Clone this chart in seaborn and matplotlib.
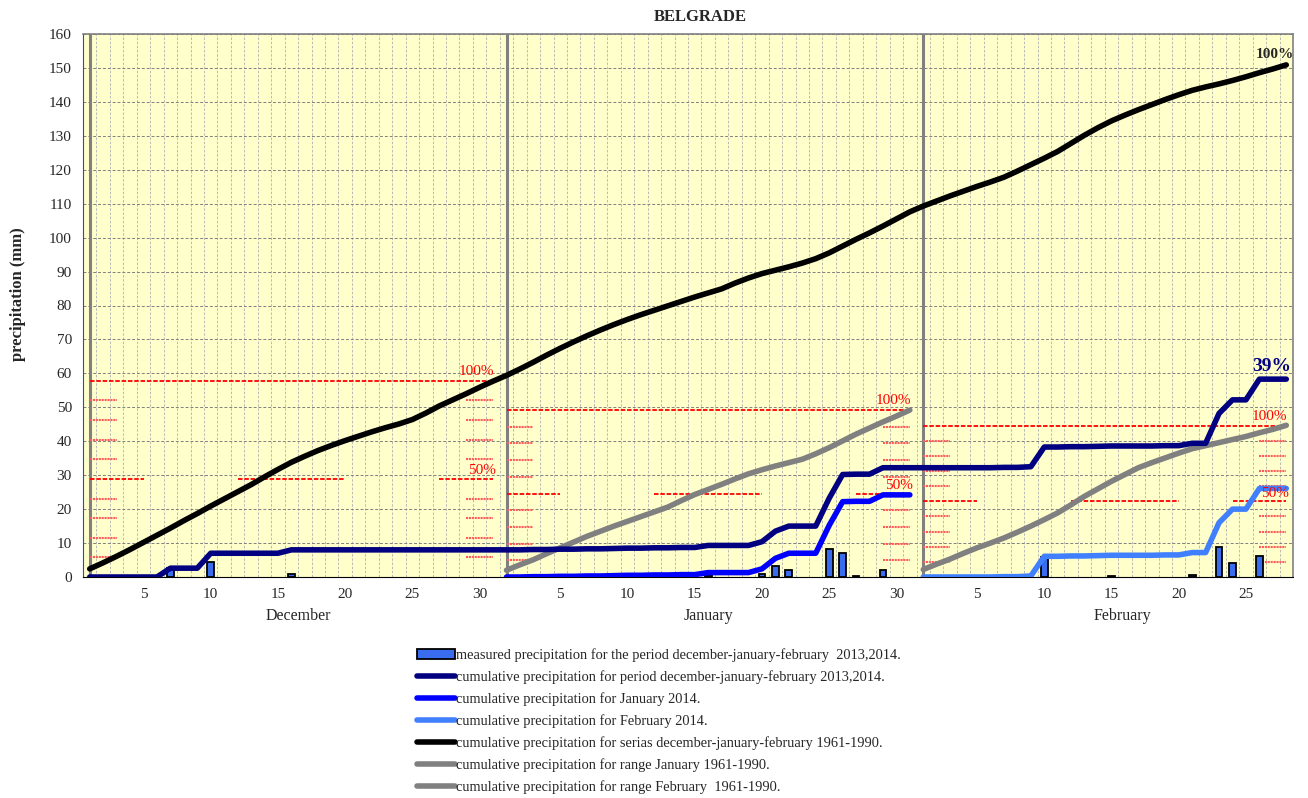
import numpy as np
import matplotlib.pyplot as plt
import seaborn as sns
from matplotlib.lines import Line2D
from matplotlib.patches import Patch

# --- DATA ---
months = ['December', 'January', 'February']
month_days = [31, 31, 28]
# normal monthly totals 1961-1990 (100% lines)
normal_totals = [57.8, 49.2, 44.6]

# measured daily precipitation (only days with rain)
rain_month = [0, 0, 0, 1, 1, 1, 1, 1, 1, 1, 1, 2, 2, 2, 2, 2, 2]
rain_day = [7, 10, 16, 16, 20, 21, 22, 25, 26, 27, 29, 10, 15, 21, 23, 24, 26]
rain_mm = [2.6, 4.4, 1.0, 0.6, 1.0, 3.3, 2.0, 8.2, 7.0, 0.4, 2.0, 5.8, 0.4, 0.7, 8.8, 4.0, 6.3]

# cumulative Dec-Jan-Feb 2013/2014
cum_season = [0, 0, 0, 0, 0, 0, 2.6, 2.6, 2.6, 7.0, 7.0, 7.0, 7.0, 7.0, 7.0, 8.0,
              8.0, 8.0, 8.0, 8.0, 8.0, 8.0, 8.0, 8.0, 8.0, 8.0, 8.0, 8.0, 8.0, 8.0, 8.0,
              8.0, 8.0, 8.1, 8.1, 8.2, 8.2, 8.3, 8.3, 8.4, 8.5, 8.5, 8.6, 8.6, 8.7, 8.7,
              9.3, 9.3, 9.3, 9.3, 10.4, 13.5, 15.0, 15.0, 15.0, 23.2, 30.2, 30.3, 30.3,
              32.2, 32.2, 32.2,
              32.2, 32.2, 32.2, 32.2, 32.2, 32.2, 32.3, 32.3, 32.5, 38.3, 38.3, 38.4, 38.4,
              38.5, 38.6, 38.6, 38.6, 38.6, 38.7, 38.7, 39.4, 39.4, 48.2, 52.2, 52.2,
              58.3, 58.3, 58.3]
cum_jan = [0.0, 0.0, 0.1, 0.1, 0.2, 0.2, 0.3, 0.3, 0.4, 0.5, 0.5, 0.6, 0.6, 0.7, 0.7,
           1.3, 1.3, 1.3, 1.3, 2.4, 5.5, 7.0, 7.0, 7.0, 15.2, 22.2, 22.3, 22.3, 24.2, 24.2, 24.2]
cum_feb = [0.0, 0.0, 0.0, 0.0, 0.0, 0.0, 0.1, 0.1, 0.3, 6.1, 6.1, 6.2, 6.2, 6.3, 6.4,
           6.4, 6.4, 6.4, 6.5, 6.5, 7.2, 7.2, 16.0, 20.0, 20.0, 26.1, 26.1, 26.1]

# normals 1961-1990
norm_season = [2.4, 4.2, 6.1, 8.1, 10.2, 12.3, 14.4, 16.6, 18.7, 20.9, 23.0, 25.1, 27.2,
               29.5, 31.7, 33.8, 35.6, 37.3, 38.8, 40.2, 41.5, 42.8, 44.0, 45.1, 46.4,
               48.3, 50.4, 52.2, 54.0, 55.9, 57.7,
               59.4, 61.3, 63.3, 65.4, 67.4, 69.3, 71.1, 72.8, 74.4, 75.9, 77.3, 78.6,
               79.9, 81.2, 82.5, 83.7, 84.9, 86.6, 88.1, 89.4, 90.4, 91.4, 92.5, 93.8,
               95.5, 97.5, 99.5, 101.4, 103.4, 105.5, 107.6,
               109.3, 110.8, 112.3, 113.7, 115.1, 116.4, 117.8, 119.6, 121.5, 123.4,
               125.4, 127.8, 130.2, 132.4, 134.4, 136.1, 137.7, 139.2, 140.7, 142.1,
               143.4, 144.4, 145.3, 146.3, 147.4, 148.6, 149.7, 150.9]
norm_jan = [2.0, 3.6, 5.1, 6.9, 8.6, 10.3, 12.0, 13.5, 15.0, 16.4, 17.8, 19.2, 20.6,
            22.5, 24.3, 25.8, 27.3, 28.9, 30.4, 31.6, 32.7, 33.7, 34.7, 36.3, 38.1,
            40.1, 42.1, 43.9, 45.7, 47.4, 49.2]
norm_feb = [2.2, 3.8, 5.3, 7.0, 8.6, 10.0, 11.5, 13.2, 15.0, 16.9, 18.9, 21.3, 23.8,
            26.0, 28.2, 30.2, 32.2, 33.7, 35.1, 36.5, 37.8, 38.7, 39.6, 40.5, 41.4,
            42.5, 43.5, 44.7]

legend_labels = [
    'measured precipitation for the period december-january-february  2013,2014.',
    'cumulative precipitation for period december-january-february 2013,2014.',
    'cumulative precipitation for January 2014.',
    'cumulative precipitation for February 2014.',
    'cumulative precipitation for serias december-january-february 1961-1990.',
    'cumulative precipitation for range January 1961-1990.',
    'cumulative precipitation for range February  1961-1990.',
]

# --- STYLE ---
sns.set_style('white')
plt.rcParams['font.family'] = ['Liberation Serif', 'DejaVu Serif']

c_bar = '#3a6cf0'
c_navy = '#000080'
c_jan = '#0000ff'
c_feb = '#4080ff'
c_grey = '#808080'
lw = 4.0

month_start = np.cumsum([0] + month_days[:-1])
n_days = sum(month_days)
x_all = np.arange(n_days)
x_jan = np.arange(month_start[1], month_start[1] + month_days[1])
x_feb = np.arange(month_start[2], month_start[2] + month_days[2])
rain_x = np.array([month_start[m] + d - 1 for m, d in zip(rain_month, rain_day)])

fig = plt.figure(figsize=(13.08, 7.98), dpi=100)
ax = fig.add_axes([83 / 1308, 1 - 577 / 798, (1293 - 83) / 1308, (577 - 34) / 798])
ax.set_facecolor('#ffffcc')

# month separators
for s in month_start:
    ax.axvline(s, color=c_grey, lw=2.2, zorder=1.5)

# red 100% / 50% / ladder marks
for s, n, tot in zip(month_start, month_days, normal_totals):
    e = s + n - 1
    half = tot / 2
    ax.hlines(tot, s, e, colors='#ff0000', linestyles=(0, (2.5, 1)), lw=1.3, zorder=2)
    for xa, xb in [(s, s + 4), (s + 11, s + 19), (e - 4, e)]:
        ax.hlines(half, xa, xb, colors='#ff0000', linestyles=(0, (2.5, 1)), lw=1.3, zorder=2)
    for k in [1, 2, 3, 4, 6, 7, 8, 9]:
        y = tot * k / 10
        ax.hlines(y, s, s + 2, colors='#ff5c5c', linestyles=(0, (1, 0.4)), lw=1.5, zorder=2)
        ax.hlines(y, e - 2, e, colors='#ff5c5c', linestyles=(0, (1, 0.4)), lw=1.5, zorder=2)
    ax.text(e + 0.1, tot + 0.9, '100%', color='red', fontsize=11, ha='right', va='bottom', zorder=6)
    ax.text(e + 0.2, half + 0.5, '50%', color='red', fontsize=11, ha='right', va='bottom', zorder=6)

# bars
sns.barplot(x=rain_x, y=rain_mm, native_scale=True, width=0.5, color=c_bar, saturation=1,
            edgecolor='black', linewidth=1.3, errorbar=None, ax=ax, zorder=3)

# cumulative lines
sns.lineplot(x=x_all, y=norm_season, color='black', lw=lw, ax=ax, zorder=4)
sns.lineplot(x=x_jan, y=norm_jan, color=c_grey, lw=lw, ax=ax, zorder=4)
sns.lineplot(x=x_feb, y=norm_feb, color=c_grey, lw=lw, ax=ax, zorder=4)
sns.lineplot(x=x_all, y=cum_season, color=c_navy, lw=lw, ax=ax, zorder=5)
sns.lineplot(x=x_jan, y=cum_jan, color=c_jan, lw=lw, ax=ax, zorder=5)
sns.lineplot(x=x_feb, y=cum_feb, color=c_feb, lw=lw, ax=ax, zorder=5)

ax.text(n_days - 0.4, norm_season[-1] + 1.0, '100%', fontsize=11, fontweight='bold',
        ha='right', va='bottom', zorder=6)
pct = round(cum_season[-1] / norm_season[-1] * 100)
ax.text(n_days - 0.6, cum_season[-1] + 1.2, f'{pct}%', fontsize=14, fontweight='bold',
        color=c_navy, ha='right', va='bottom', zorder=6)

# axes
ax.set_xlim(-0.5, n_days - 0.5)
ax.set_ylim(0, 160)
ax.set_yticks(np.arange(0, 161, 10))
ax.set_xticks(np.arange(-0.5, n_days, 1))
ax.set_xticklabels([])
lab_pos, lab_txt = [], []
for s, n in zip(month_start, month_days):
    for d in range(5, n + 1, 5):
        lab_pos.append(s + d - 1)
        lab_txt.append(str(d))
ax.set_xticks(lab_pos, minor=True)
ax.set_xticklabels(lab_txt, minor=True, fontsize=11)
ax.tick_params(axis='x', which='major', length=5, direction='out', color='black', width=0.8)
ax.tick_params(axis='x', which='minor', length=0, pad=8)
ax.tick_params(axis='y', length=5, direction='out', color='#4040c0', labelsize=11, pad=3)
ax.grid(False)
ax.yaxis.grid(True, color='#808080', ls=(0, (3, 2)), lw=0.7)
ax.xaxis.grid(True, which='major', color='#b0b0b0', ls=(0, (3, 2)), lw=0.6)
ax.set_axisbelow(True)
for side in ['top', 'right']:
    ax.spines[side].set_color('#808080')
    ax.spines[side].set_linewidth(1.2)
ax.spines['left'].set_color('#4040c0')
ax.spines['bottom'].set_color('black')

month_pos = [15.5, 46, 76.8]
for name, xp in zip(months, month_pos):
    ax.annotate(name, xy=(xp, 0), xycoords=('data', 'axes fraction'), xytext=(0, -22),
                textcoords='offset points', ha='center', va='top', fontsize=11.5)

ax.set_xlabel('')
ax.set_ylabel('')
fig.text(18 / 1308, 1 - 294 / 798, 'precipitation (mm)', rotation=90, fontsize=12,
         fontweight='bold', ha='center', va='center')
fig.text(700 / 1308, 1 - 17 / 798, 'BELGRADE', fontsize=12, fontweight='bold',
         ha='center', va='center')

handles = [Patch(facecolor=c_bar, edgecolor='black', linewidth=1.3)]
for c in [c_navy, c_jan, c_feb, 'black', c_grey, c_grey]:
    handles.append(Line2D([], [], color=c, lw=lw))
fig.legend(handles, legend_labels, loc='upper left', bbox_to_anchor=(417 / 1308, 1 - 648 / 798),
           frameon=False, fontsize=10.4, handlelength=2.6, handletextpad=0.1,
           labelspacing=0.57, borderaxespad=0, borderpad=0)

fig.savefig('out.png', dpi=100)
